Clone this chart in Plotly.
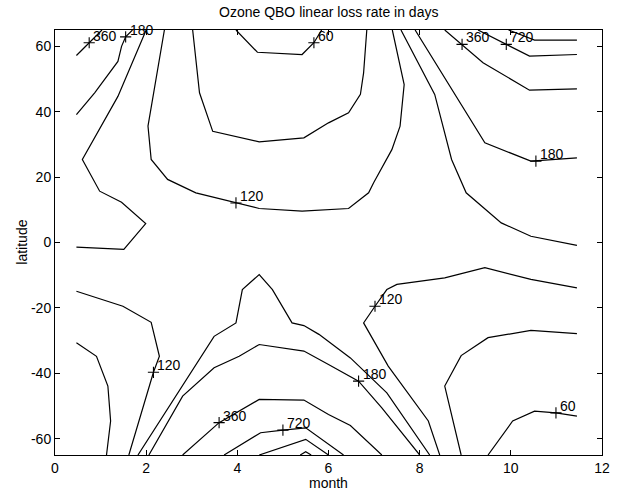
import plotly.graph_objects as go

# ---- data: contour polylines (month, latitude) ----
A_month = [0.47, 0.75, 1.03]
A_lat = [57.2, 61.1, 65]
B_month = [0.47, 0.87, 1.38, 1.46, 1.55, 1.7]
B_lat = [39.1, 45.8, 55.4, 60, 62.9, 65]
C_month = [2.0, 1.38, 0.6, 0.98, 1.46, 1.99, 1.51, 0.47]
C_lat = [65, 44.7, 25.4, 15.7, 12.3, 5.8, -2.1, -1.4]
D_month = [2.4, 2.04, 2.11, 2.47, 3.09, 3.97, 4.48, 5.42, 5.79, 6.44, 6.88, 6.99, 7.39, 7.57, 7.66, 7.4]
D_lat = [65, 35.6, 25.4, 19.3, 15.2, 12.1, 10.4, 9.6, 9.9, 10.4, 15.2, 18.3, 28.4, 35.6, 48.3, 65]
E_month = [3.02, 3.09, 3.17, 3.46, 4.48, 5.46, 6.0, 6.44, 6.7, 6.77, 6.84]
E_lat = [65, 56, 45.8, 34, 30.8, 32, 36.6, 39.7, 45.3, 51.9, 65]
F_month = [3.97, 4.44, 5.42, 5.68, 5.85]
F_lat = [65, 58.2, 57.5, 61.1, 65]
G_month = [7.59, 8.33, 8.7, 9.02, 9.79, 10.44, 11.45]
G_lat = [65, 45.3, 25.4, 15.2, 6, 1.9, -0.9]
H_month = [7.9, 9.43, 10.44, 11.45]
H_lat = [65, 30.5, 24.9, 25.9]
I_month = [8.55, 8.93, 9.39, 10.41, 11.45]
I_lat = [65, 60.6, 55, 46.6, 47]
J_month = [9.28, 9.9, 10.41, 11.45]
J_lat = [65, 60.6, 57, 57.5]
K_month = [9.95, 10.52, 11.45]
K_lat = [65, 61.9, 61.9]
L_month = [0.47, 1.49, 2.11, 2.29, 2.16, 1.62]
L_lat = [-14.9, -19.5, -24.4, -34.8, -39.7, -65]
M_month = [0.47, 0.91, 1.16, 1.22, 1.13]
M_lat = [-30.7, -34.8, -43.9, -54.6, -65]
N_month = [1.82, 3.49, 3.97, 4.11, 4.48, 4.77, 5.2, 5.46, 5.79, 6.48, 7.28, 8.22]
N_lat = [-65, -28.7, -24.6, -14.4, -9.8, -14.4, -24.6, -25.4, -28.1, -35.3, -46, -65]
Q_month = [2.06, 2.8, 3.49, 4.04, 4.48, 5.46, 6.0, 6.66, 7.17, 8.0]
Q_lat = [-65, -47, -38.3, -34.8, -31.2, -33.2, -37.3, -42.4, -50.6, -65]
R_month = [2.8, 3.6, 4.48, 5.46, 6.0, 6.48, 7.17]
R_lat = [-65, -55.1, -48, -48.2, -52.6, -56, -65]
S_month = [3.71, 4.51, 5.0, 5.5, 6.33]
S_lat = [-65, -58.2, -57.4, -56.7, -65]
T_month = [4.48, 5.5, 6.0]
T_lat = [-65, -60.2, -65]
U_month = [5.38, 5.5, 5.62]
U_lat = [-65, -64.0, -65]
O_month = [11.45, 10.44, 9.43, 8.55, 7.5, 7.28, 7.02, 6.77, 7.31, 8.19, 8.44]
O_lat = [-13.9, -11.3, -7.7, -10.8, -12.8, -14.4, -19.5, -24.6, -37.8, -54.6, -65]
V_month = [11.45, 10.44, 9.5, 8.91, 8.55, 8.91]
V_lat = [-27.9, -26.9, -29.1, -34.6, -43.9, -65]
W_month = [11.45, 10.99, 10.52, 10.04, 9.5]
W_lat = [-53.1, -52.1, -51.6, -54.6, -65]

# contour labels
label_month = [0.75, 1.55, 5.68, 3.97, 8.93, 9.9, 10.55, 2.16, 7.02, 6.66, 3.6, 5.0, 10.99]
label_lat = [61.1, 62.9, 61.1, 12.1, 60.6, 60.6, 24.9, -39.7, -19.5, -42.4, -55.1, -57.4, -52.1]
label_text = ["360", "180", "60", "120", "360", "720", "180", "120", "120", "180", "360", "720", "60"]

x_ticks = [0, 2, 4, 6, 8, 10, 12]
y_ticks = [-60, -40, -20, 0, 20, 40, 60]
y_tick_text = ["-60", "-40", "-20", "0", "20", "40", "60"]

lines = [(A_month, A_lat), (B_month, B_lat), (C_month, C_lat), (D_month, D_lat),
         (E_month, E_lat), (F_month, F_lat), (G_month, G_lat), (H_month, H_lat),
         (I_month, I_lat), (J_month, J_lat), (K_month, K_lat), (L_month, L_lat),
         (M_month, M_lat), (N_month, N_lat), (Q_month, Q_lat), (R_month, R_lat),
         (S_month, S_lat), (T_month, T_lat), (U_month, U_lat), (O_month, O_lat),
         (V_month, V_lat), (W_month, W_lat)]

FONT = "Liberation Sans, Arial, Helvetica, sans-serif"

fig = go.Figure()
for xs, ys in lines:
    fig.add_trace(go.Scatter(x=xs, y=ys, mode="lines",
                             line=dict(color="black", width=1.2),
                             hoverinfo="skip", showlegend=False, cliponaxis=True))

fig.add_trace(go.Scatter(x=label_month, y=label_lat, mode="markers",
                         marker=dict(symbol="cross-thin", size=8, color="black",
                                     line=dict(width=1.1, color="black")),
                         hoverinfo="skip", showlegend=False, cliponaxis=False))

annotations = []
for xm, yl, t in zip(label_month, label_lat, label_text):
    annotations.append(dict(x=xm, y=yl, xref="x", yref="y", text=t, showarrow=False,
                            xanchor="left", yanchor="bottom", xshift=2, yshift=-3,
                            font=dict(family=FONT, size=14, color="black")))

annotations.append(dict(x=0.5, y=1 + 18 / 425, xref="paper", yref="paper",
                        text="Ozone QBO linear loss rate in days", showarrow=False,
                        xanchor="center", yanchor="middle",
                        font=dict(family=FONT, size=14, color="black")))
annotations.append(dict(x=0.5, y=-28 / 425, xref="paper", yref="paper",
                        text="month", showarrow=False,
                        xanchor="center", yanchor="middle",
                        font=dict(family=FONT, size=14, color="black")))
annotations.append(dict(x=-34 / 550, y=0.5, xref="paper", yref="paper",
                        text="latitude", showarrow=False, textangle=-90,
                        xanchor="center", yanchor="middle",
                        font=dict(family=FONT, size=14, color="black")))

fig.update_layout(
    width=622, height=492,
    margin=dict(l=55, r=17, t=30, b=37),
    paper_bgcolor="white", plot_bgcolor="white",
    font=dict(family=FONT, size=14, color="black"),
    annotations=annotations,
    showlegend=False,
)
fig.update_xaxes(range=[0, 12], tickvals=x_ticks, ticktext=[str(v) for v in x_ticks],
                 ticks="inside", ticklen=5, tickwidth=1, tickcolor="black",
                 showline=True, linecolor="black", linewidth=1, mirror="ticks",
                 showgrid=False, zeroline=False, fixedrange=True,
                 tickfont=dict(family=FONT, size=14, color="black"))
fig.update_yaxes(range=[-65, 65], tickvals=y_ticks, ticktext=y_tick_text,
                 ticks="inside", ticklen=5, tickwidth=1, tickcolor="black",
                 showline=True, linecolor="black", linewidth=1, mirror="ticks",
                 showgrid=False, zeroline=False, fixedrange=True,
                 tickfont=dict(family=FONT, size=14, color="black"))

fig.write_html("out.html")
